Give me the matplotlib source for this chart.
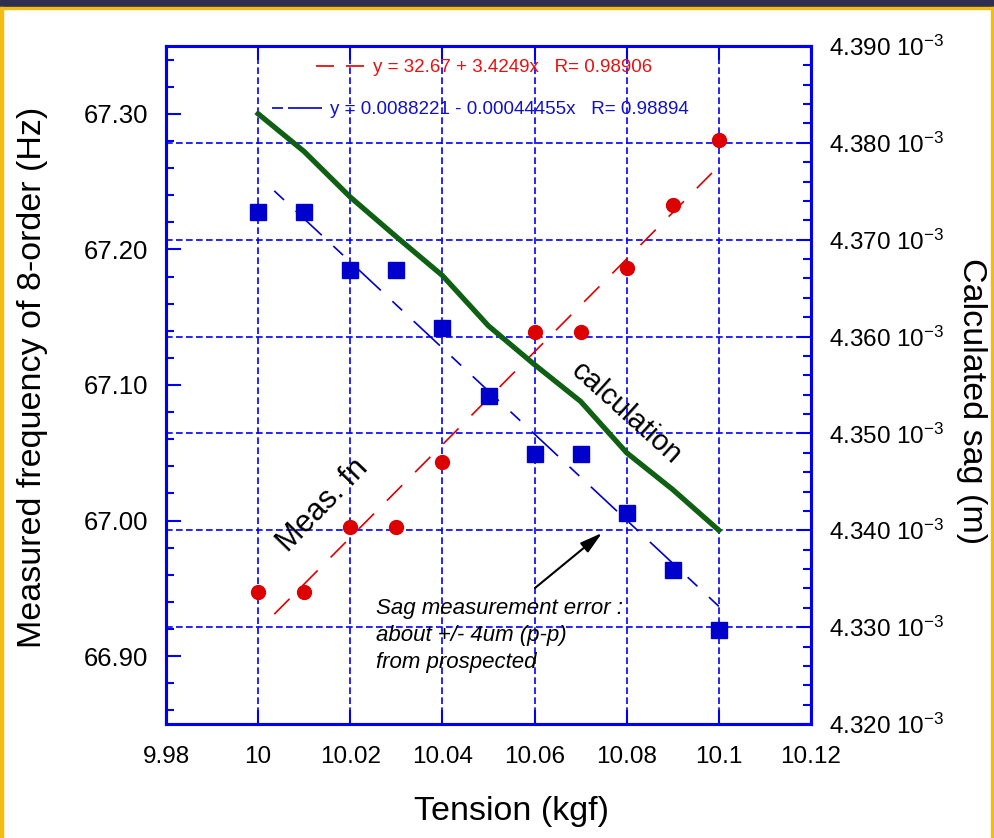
import matplotlib
matplotlib.use("Agg")
import matplotlib.pyplot as plt
from matplotlib.lines import Line2D
from matplotlib.patches import Rectangle
from matplotlib.ticker import FormatStrFormatter, FuncFormatter, MultipleLocator

plt.rcParams["font.family"] = ["Liberation Sans", "DejaVu Sans"]
plt.rcParams["mathtext.fontset"] = "custom"
plt.rcParams["mathtext.rm"] = "Liberation Sans"
plt.rcParams["mathtext.it"] = "Liberation Sans:italic"
plt.rcParams["mathtext.bf"] = "Liberation Sans:bold"

W, H = 994, 838

# data
tension = [10.00, 10.01, 10.02, 10.03, 10.04, 10.05, 10.06, 10.07, 10.08, 10.09, 10.10]
freq_meas = [66.947, 66.947, 66.995, 66.995, 67.043, 67.092, 67.139, 67.139, 67.186, 67.233, 67.281]
sag_meas = [4.3729e-3, 4.3729e-3, 4.3669e-3, 4.3669e-3, 4.3609e-3, 4.3539e-3,
            4.3479e-3, 4.3479e-3, 4.3418e-3, 4.3359e-3, 4.3297e-3]
sag_calc = [4.3830e-3, 4.3791e-3, 4.3744e-3, 4.3703e-3, 4.3663e-3, 4.3611e-3,
            4.3571e-3, 4.3533e-3, 4.3480e-3, 4.3442e-3, 4.3400e-3]

# linear fits as printed on the chart
freq_fit = (32.67, 3.4249, 0.98906)
sag_fit = (0.0088221, -0.00044455, 0.98894)
freq_fit_x = [10.0035, 10.0985]
sag_fit_x = [10.0035, 10.1]

BLUE = "#0000ee"
RED = "#dd0000"
SQ_BLUE = "#0000cc"
GREEN = "#106014"


def fx(px):
    return px / W


def fy(py):
    return 1 - py / H


fig = plt.figure(figsize=(W / 100, H / 100), dpi=100)
fig.patches.append(Rectangle((0, fy(7)), 1, 7 / H, transform=fig.transFigure, color="#2e2e50"))
fig.patches.append(Rectangle((0, fy(9.5)), 1, 2.5 / H, transform=fig.transFigure, color="#f2bd12"))
fig.patches.append(Rectangle((0, 0), 2.5 / W, fy(7), transform=fig.transFigure, color="#f2bd12"))
fig.patches.append(Rectangle((fx(991), 0), 3 / W, fy(7), transform=fig.transFigure, color="#f2bd12"))

ax = fig.add_axes([fx(166), fy(724), 645 / W, 678 / H])
ax2 = ax.twinx()

grid_kw = dict(color="#0000ff", lw=1.2, linestyle=(0, (4, 2)))
ax.grid(axis="x", which="major", **grid_kw)
ax2.grid(axis="y", which="major", **grid_kw)

# everything is drawn in ax2 so the marks sit above both grids
ax2.plot(tension, freq_meas, "o", color=RED, ms=10, mec=RED, transform=ax.transData, zorder=3)
ax2.plot(freq_fit_x, [freq_fit[0] + freq_fit[1] * x for x in freq_fit_x], color=RED, lw=1.2,
         dashes=(13, 11), transform=ax.transData, zorder=2.5)
ax2.plot(sag_fit_x, [sag_fit[0] + sag_fit[1] * x for x in sag_fit_x], color=SQ_BLUE, lw=1.2,
         dashes=(8, 9.5, 21.5, 9.5), zorder=2.5)
ax2.plot(tension, sag_calc, color=GREEN, lw=3.8, solid_joinstyle="round", zorder=3)
ax2.plot(tension, sag_meas, "s", color=SQ_BLUE, ms=11.5, zorder=4)

ax.set_xlim(9.98, 10.12)
ax.set_ylim(66.85, 67.35)
ax2.set_ylim(4.32e-3, 4.39e-3)

ax.xaxis.set_major_locator(MultipleLocator(0.02))
ax.xaxis.set_major_formatter(FormatStrFormatter("%g"))
ax.yaxis.set_major_locator(MultipleLocator(0.1))
ax.yaxis.set_minor_locator(MultipleLocator(0.02))
ax.yaxis.set_major_formatter(FormatStrFormatter("%.2f"))
ax2.yaxis.set_major_locator(MultipleLocator(1e-5))
ax2.yaxis.set_minor_locator(MultipleLocator(2e-6))
ax2.yaxis.set_major_formatter(FuncFormatter(lambda v, p: f"{v * 1e3:.3f} 10$^{{-3}}$"))

ax.tick_params(axis="both", which="both", direction="in", colors=BLUE, labelcolor="black", width=1.5)
ax.tick_params(axis="x", which="major", top=True, bottom=True, length=10, pad=15.5, labelsize=17.5)
ax.tick_params(axis="y", which="major", left=True, right=False, length=11, pad=13, labelsize=18.5)
ax.tick_params(axis="y", which="minor", left=True, right=False, length=6)
ax2.tick_params(axis="y", which="both", direction="in", colors=BLUE, labelcolor="black", width=1.5)
ax2.tick_params(axis="y", which="major", length=10, pad=13, labelsize=17.5)
ax2.tick_params(axis="y", which="minor", length=6)

for a in (ax, ax2):
    for sp in a.spines.values():
        sp.set_color(BLUE)
        sp.set_linewidth(2.2)

fig.text(fx(33), fy(377), "Measured frequency of 8-order (Hz)", rotation=90, fontsize=24.5,
         ha="center", va="center")
fig.text(fx(972), fy(401), "Calculated sag (m)", rotation=270, fontsize=24.5, ha="center", va="center")
fig.text(fx(511.5), fy(811), "Tension (kgf)", fontsize=24.5, ha="center", va="center")

# legend of the fits
fig.add_artist(Line2D([fx(316), fx(364)], [fy(66), fy(66)], transform=fig.transFigure,
                      color=RED, lw=1.2, dashes=(10.8, 7.2)))
fig.text(fx(373), fy(67), f"y = {freq_fit[0]} + {freq_fit[1]}x   R= {freq_fit[2]}",
         color="#e81010", fontsize=13.5, va="center")
fig.add_artist(Line2D([fx(272), fx(322)], [fy(108), fy(108)], transform=fig.transFigure,
                      color=SQ_BLUE, lw=1.2, dashes=(6.6, 3, 20.4, 3)))
fig.text(fx(330), fy(109), f"y = {sag_fit[0]} - {abs(sag_fit[1])}x   R= {sag_fit[2]}",
         color="#1010cc", fontsize=13.5, va="center")

fig.text(fx(323), fy(505), "Meas. fn", rotation=46, fontsize=22, ha="center", va="center",
         rotation_mode="anchor")
fig.text(fx(626), fy(413), "calculation", rotation=-42, fontsize=21, ha="center", va="center",
         rotation_mode="anchor")

fig.text(fx(376), fy(635.5), "Sag measurement error :\nabout +/- 4um (p-p)\nfrom prospected",
         style="italic", fontsize=16, ha="left", va="center", linespacing=1.38)
ax2.annotate("", xy=(fx(602), fy(533)), xycoords="figure fraction",
             xytext=(fx(535), fy(588)), textcoords="figure fraction",
             arrowprops=dict(arrowstyle="-|>,head_width=0.25,head_length=0.9", color="black",
                             lw=1.5, mutation_scale=15, shrinkA=0, shrinkB=0))

fig.savefig("out.png", dpi=100)
